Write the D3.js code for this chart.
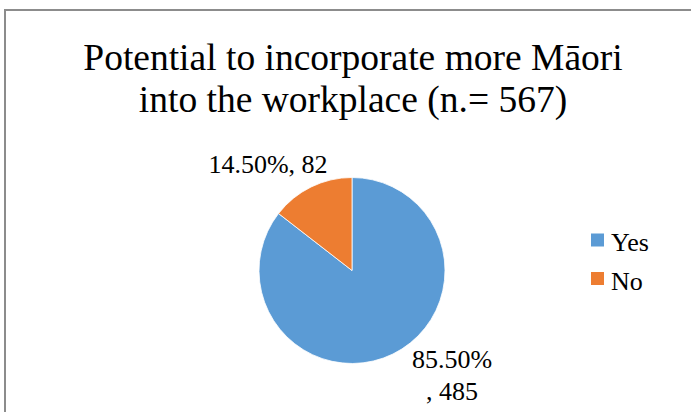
<!DOCTYPE html>
<html>
<head>
<meta charset="utf-8">
<script src="https://cdn.jsdelivr.net/npm/d3@7"></script>
<style>
  html, body { margin: 0; padding: 0; background: #fff; }
  svg { display: block; }
</style>
</head>
<body>
<svg id="chart" width="691" height="412"></svg>
<script>
// Survey responses
const categories = ["Yes", "No"];
const counts = [485, 82];
const percents = [85.5, 14.5];
const colors = ["#5B9BD5", "#ED7D31"];
const titleLines = ["Potential to incorporate more Māori", "into the workplace (n.= 567)"];

const FONT = "Liberation Serif";
const svg = d3.select("#chart");
const W = 691, H = 412;

// Chart frame (left and top edges visible)
svg.append("rect")
  .attr("x", 5).attr("y", 10)
  .attr("width", W + 10).attr("height", H + 10)
  .attr("fill", "#fff")
  .attr("stroke", "#8c8c8c")
  .attr("stroke-width", 2);

// Title
svg.append("g").selectAll("text")
  .data(titleLines)
  .join("text")
  .attr("x", 353)
  .attr("y", (d, i) => 69.5 + i * 42.5)
  .attr("text-anchor", "middle")
  .style("font-family", FONT)
  .attr("font-size", 37.5)
  .text(d => d);

// Pie
const cx = 352, cy = 270.5, r = 93;
const data = categories.map((c, i) => ({ cat: c, count: counts[i], pct: percents[i], color: colors[i] }));
const pie = d3.pie().sort(null).value(d => d.pct);
const arc = d3.arc().innerRadius(0).outerRadius(r);
const arcs = pie(data);

const g = svg.append("g").attr("transform", `translate(${cx},${cy})`);
g.selectAll("path")
  .data(arcs)
  .join("path")
  .attr("d", arc)
  .attr("fill", d => d.data.color)
  .attr("stroke", "#fff")
  .attr("stroke-width", 0.8);

// Data labels: "percent, count"
const fmt = d => d3.format(".2f")(d.data.pct) + "%";
const labelSize = 26;
const yes = arcs[0], no = arcs[1];
// Yes label wraps onto two lines beside the lower right of the pie
const yesLab = svg.append("text")
  .attr("text-anchor", "middle")
  .style("font-family", FONT)
  .attr("font-size", labelSize);
yesLab.append("tspan").attr("x", 452).attr("y", 368).text(fmt(yes));
yesLab.append("tspan").attr("x", 452).attr("y", 400).text(", " + yes.data.count);

svg.append("text")
  .attr("x", 268).attr("y", 172.5)
  .attr("text-anchor", "middle")
  .style("font-family", FONT)
  .attr("font-size", labelSize)
  .text(fmt(no) + ", " + no.data.count);

// Legend
const items = svg.append("g").selectAll("g")
  .data(data)
  .join("g")
  .attr("transform", (d, i) => `translate(591,${233.5 + i * 38.5})`);
items.append("rect")
  .attr("width", 13).attr("height", 13)
  .attr("fill", d => d.color);
items.append("text")
  .attr("x", 20).attr("y", 17.5)
  .style("font-family", FONT)
  .attr("font-size", labelSize)
  .text(d => d.cat);
</script>
</body>
</html>
